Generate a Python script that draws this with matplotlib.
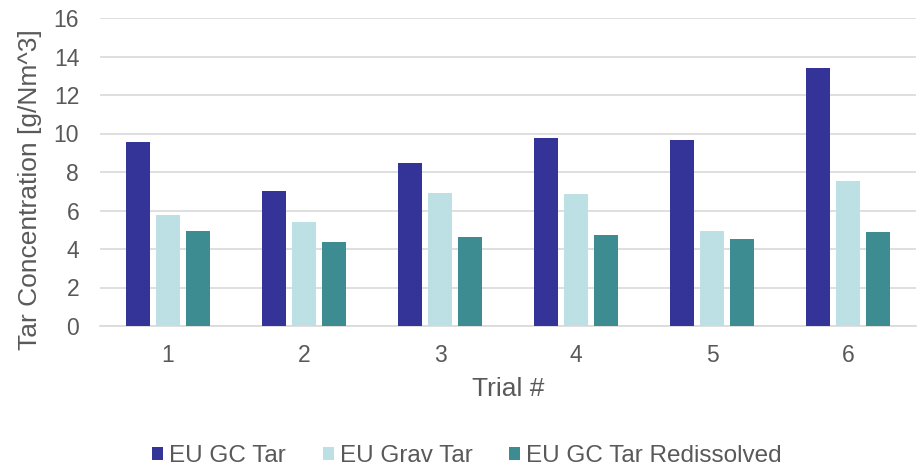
import matplotlib.pyplot as plt
import numpy as np

plt.rcParams['font.family'] = ['Liberation Sans', 'DejaVu Sans']

# Datos
trials = ['1', '2', '3', '4', '5', '6']
gc_tar = [9.56, 7.01, 8.47, 9.78, 9.65, 13.40]
grav_tar = [5.77, 5.40, 6.91, 6.84, 4.94, 7.53]
gc_redis = [4.94, 4.36, 4.62, 4.74, 4.52, 4.87]

series = [
    ('EU GC Tar', gc_tar, '#343398'),
    ('EU Grav Tar', grav_tar, '#BCE0E3'),
    ('EU GC Tar Redissolved', gc_redis, '#3C8C91'),
]

gray = '#595959'
x = np.arange(1, len(trials) + 1)
width = 0.176
step = 0.221

fig = plt.figure(figsize=(9.21, 4.70), dpi=100)
ax = fig.add_axes([100 / 921, 1 - 326 / 470, 816 / 921, 308 / 470])

for i, (name, vals, color) in enumerate(series):
    ax.bar(x + (i - 1) * step, vals, width, color=color, label=name, zorder=3)

ax.set_ylim(0, 16)
ax.set_yticks(range(0, 17, 2))
ax.set_xlim(0.5, 6.5)
ax.set_xticks(x)
ax.set_xticklabels(trials)
ax.grid(axis='y', color='#D9D9D9', linewidth=1.2, zorder=0)
for s in ['top', 'right', 'left']:
    ax.spines[s].set_visible(False)
ax.spines['bottom'].set_color('#D9D9D9')
ax.spines['bottom'].set_linewidth(1.2)
ax.tick_params(axis='both', length=0, labelsize=16.5, labelcolor=gray)
ax.tick_params(axis='x', pad=13)
ax.tick_params(axis='y', pad=15)

ax.set_ylabel('Tar Concentration [g/Nm^3]', fontsize=19, color=gray)
ax.yaxis.set_label_coords((30 - 100) / 816, (326 - 190) / 308)
ax.yaxis.label.set_va('center')
ax.set_xlabel('Trial #', fontsize=19, color=gray)
ax.xaxis.set_label_coords(0.5, (326 - 389) / 308)
ax.xaxis.label.set_va('center')

# leyenda abajo, un poco subida para que no se corte
leg = fig.legend(loc='center', bbox_to_anchor=(467 / 921, 1 - 456 / 470), ncol=3,
                 frameon=False, fontsize=17.5, handlelength=0.45, handleheight=0.45,
                 handletextpad=0.25, columnspacing=1.5)
for t in leg.get_texts():
    t.set_color(gray)

fig.savefig('out.png', dpi=100)
